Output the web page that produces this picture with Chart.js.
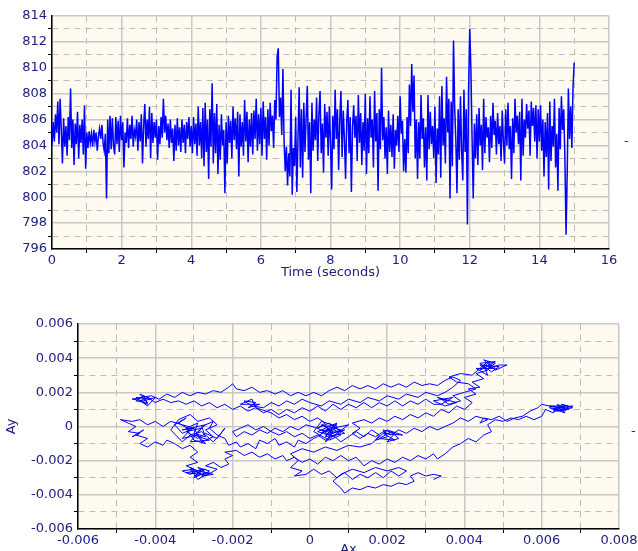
<!DOCTYPE html>
<html>
<head>
<meta charset="utf-8">
<script src="https://cdn.jsdelivr.net/npm/chart.js@4"></script>
<style>
  html, body { margin: 0; padding: 0; background: #fff; overflow: hidden; width: 638px; height: 551px; }
  canvas { position: absolute; left: 0; }
  #c1 { top: 0; }
  #c2 { top: 290px; }
  .mark { position: absolute; font: 13px "DejaVu Sans"; color: #2030a0; }
</style>
</head>
<body>
<canvas id="c1" width="638" height="285"></canvas>
<canvas id="c2" width="638" height="275"></canvas>
<div class="mark" style="left:624px;top:133px">-</div>
<div class="mark" style="left:631px;top:423px">-</div>
<script>
// top plot: signal, 30 samples per second, one row per second
const samplesPerSec = 30;
const signal = [
  804.0, 805.8, 804.3, 806.4, 805.0, 807.4, 804.1, 807.6, 805.2, 802.6, 806.1, 803.9, 805.5, 803.2, 806.2, 804.4, 808.4, 803.8, 806.0, 802.5, 805.7, 804.1, 806.6, 803.0, 805.6, 804.2, 806.0, 803.3, 807.1, 802.2,
  805.0, 803.8, 805.1, 804.2, 804.9, 803.9, 805.2, 804.3, 805.0, 803.6, 804.7, 805.3, 804.5, 805.6, 804.2, 803.6, 804.9, 799.9, 806.0, 803.4, 806.3, 803.7, 806.1, 804.0, 803.3, 806.2, 804.1, 805.9, 803.5, 806.3,
  804.4, 805.8, 802.3, 805.0, 804.2, 806.1, 803.8, 805.6, 804.5, 806.3, 803.9, 805.2, 804.7, 806.0, 803.6, 805.8, 804.3, 806.4, 802.6, 805.5, 807.2, 803.9, 806.0, 804.5, 807.0, 803.0, 806.5, 804.2, 805.8, 804.6,
  806.0, 802.9, 805.5, 804.1, 806.2, 804.6, 807.6, 805.0, 806.3, 804.4, 805.7, 803.8, 806.0, 804.2, 805.3, 802.8, 805.6, 803.6, 806.1, 804.0, 805.4, 803.5, 806.0, 804.2, 805.6, 803.4, 805.8, 804.5, 806.2, 803.9,
  805.5, 803.4, 806.2, 804.1, 805.7, 803.2, 807.0, 804.0, 805.8, 803.0, 806.9, 802.4, 807.3, 803.5, 806.0, 801.4, 806.8, 803.9, 808.8, 802.6, 806.5, 803.4, 807.2, 801.8, 805.6, 802.9, 806.4, 804.0, 805.2, 800.3,
  805.8, 802.6, 806.3, 804.2, 805.9, 803.0, 807.0, 804.4, 806.1, 803.7, 806.6, 801.6, 806.4, 803.9, 805.8, 803.2, 807.5, 804.3, 806.6, 802.7, 806.0, 803.9, 806.5, 803.3, 806.7, 804.5, 807.6, 803.6, 806.4, 804.1,
  806.9, 803.2, 807.4, 804.5, 806.2, 802.9, 806.8, 804.0, 807.3, 805.1, 806.3, 803.8, 807.5, 806.0, 810.8, 811.5, 806.2, 807.7, 804.8, 809.9, 804.3, 802.0, 803.9, 800.9, 803.4, 801.6, 808.3, 800.2, 803.8, 802.4,
  806.2, 800.4, 804.6, 808.5, 802.3, 806.8, 801.5, 807.3, 803.5, 806.1, 808.6, 802.9, 805.8, 800.3, 807.3, 803.6, 806.0, 804.4, 807.7, 802.8, 806.4, 808.2, 803.4, 805.7, 801.9, 807.2, 804.6, 806.6, 803.2, 807.0,
  804.2, 800.6, 806.3, 803.7, 808.3, 804.5, 806.8, 802.1, 806.0, 808.2, 803.1, 806.7, 804.5, 801.4, 805.9, 807.5, 803.4, 806.2, 800.4, 805.4, 807.1, 804.6, 806.3, 802.8, 807.9, 804.2, 806.5, 802.5, 805.8, 803.6,
  808.0, 801.8, 806.1, 803.4, 807.8, 804.6, 806.0, 802.3, 808.2, 804.3, 806.5, 800.5, 806.8, 803.7, 810.0, 804.4, 806.2, 803.0, 805.4, 801.8, 806.7, 803.5, 805.6, 803.1, 806.4, 802.2, 805.2, 804.0, 806.3, 803.5,
  807.8, 804.9, 805.9, 802.0, 804.5, 801.9, 806.2, 803.4, 808.7, 805.5, 810.3, 806.6, 809.4, 803.0, 806.0, 801.4, 805.8, 803.0, 807.9, 804.5, 806.1, 802.3, 805.4, 801.3, 807.9, 803.7, 806.6, 804.1, 805.5, 803.0,
  807.0, 801.1, 805.3, 803.3, 807.8, 801.5, 808.6, 804.0, 806.1, 802.6, 809.3, 805.0, 807.6, 799.9, 807.4, 802.4, 812.1, 806.9, 804.4, 800.3, 806.8, 802.9, 807.8, 803.6, 801.3, 808.3, 803.5, 806.8, 797.9, 808.4,
  813.0, 809.8, 804.6, 799.9, 805.7, 803.0, 806.4, 802.5, 806.9, 804.0, 805.6, 802.1, 807.6, 803.4, 806.2, 804.6, 805.4, 802.7, 806.3, 803.8, 807.3, 804.8, 805.9, 803.3, 806.5, 804.1, 805.5, 802.8, 806.7, 804.3,
  802.6, 806.8, 804.0, 807.3, 803.7, 805.5, 801.4, 806.1, 803.4, 807.6, 805.0, 806.3, 804.1, 806.6, 801.3, 807.6, 803.2, 806.0, 804.6, 807.2, 805.3, 806.7, 803.2, 807.4, 805.5, 806.9, 804.3, 807.1, 803.0, 806.8,
  804.3, 807.1, 803.6, 806.0, 801.6, 805.8, 803.1, 806.5, 800.6, 807.4, 802.8, 805.5, 803.9, 807.6, 802.3, 804.9, 800.5, 806.9, 803.7, 807.8, 805.2, 806.8, 803.0, 797.1, 801.9, 808.4, 804.5, 807.0, 803.8, 808.5,
  810.4
];

// bottom plot: [Ax, Ay] path, in units of 0.001
const trail = [
  [0.5,-0.2],[0.7,0.1],[0.4,0.0],[0.6,-0.4],[0.3,-0.2],[0.8,-0.3],[0.5,0.2],[0.2,-0.1],[0.6,-0.6],[0.9,-0.2],[0.4,-0.5],[0.7,0.0],[0.3,0.3],[0.1,-0.3],[0.5,-0.8],[0.8,-0.5],[0.6,-0.1],[1.0,0.1],[0.7,-0.4],[0.4,-0.9],
  [0.6,-0.3],[0.3,0.1],[0.8,-0.2],[0.5,-0.5],[0.2,-0.3],[0.7,0.2],[0.4,-0.6],[0.9,-0.4],[0.6,0.0],[0.3,-0.4],[0.5,-0.1],[0.2,-0.6],
  [0.1,-0.7],[-0.1,-1.0],[-0.3,-0.8],[-0.4,-1.2],[-0.6,-0.9],[-0.8,-1.1],[-0.9,-0.7],[-1.1,-1.0],[-1.3,-0.8],[-1.4,-1.3],[-1.6,-1.0],[-1.8,-1.2],[-1.9,-0.9],[-2.1,-1.1],[-2.2,-0.7],
  [-2.4,-0.5],[-2.6,-0.1],[-2.5,0.3],[-2.8,0.0],[-2.7,-0.6],[-3.0,-0.4],[-2.9,0.2],[-3.2,-0.1],[-3.0,-0.8],[-2.7,-1.0],[-2.9,-0.5],[-3.3,-0.7],[-3.1,-0.2],[-3.4,0.2],[-3.2,0.5],[-3.5,0.1],[-3.3,-0.4],[-3.0,-0.1],
  [-2.8,-0.9],[-2.5,-0.6],[-2.7,-0.2],[-2.4,0.1],[-2.6,0.5],[-2.9,0.3],[-3.1,0.7],[-3.4,0.4],[-3.6,-0.2],[-3.3,-0.9],[-3.1,-0.5],[-2.8,-0.3],[-2.5,-0.9],[-2.3,-0.4],[-2.2,-0.1],[-2.4,-0.7],[-2.7,-0.4],
  [-2.9,-0.7],[-3.2,-0.3],[-2.8,-0.1],[-3.1,-0.9],[-2.6,-0.8],[-3.0,-0.5],[-2.7,0.1],[-3.3,-0.2],
  [-3.0,-0.1],[-3.3,0.1],[-3.6,0.3],[-3.8,0.0],[-4.0,0.3],[-4.2,0.1],[-4.4,0.4],[-4.6,0.3],[-4.9,0.4],[-4.7,0.2],[-4.5,0.0],[-4.7,-0.3],[-4.4,-0.4],[-4.6,-0.6],[-4.3,-0.2],[-4.5,-0.5],[-4.2,-0.7],[-4.4,-1.0],
  [-4.2,-1.2],[-4.0,-0.9],[-3.8,-1.1],[-3.7,-0.8],[-3.5,-1.0],[-3.3,-1.3],[-3.1,-1.1],[-2.9,-1.5],[-3.1,-1.8],
  [-2.9,-2.1],[-3.2,-2.3],[-3.0,-2.5],[-3.3,-2.6],[-3.1,-2.8],[-2.8,-2.5],[-3.0,-3.0],[-2.7,-2.7],[-2.9,-2.4],[-2.6,-2.6],[-2.8,-2.9],[-2.5,-2.8],
  [-2.9,-2.6],[-3.1,-2.4],[-2.8,-2.8],[-3.2,-2.7],[-2.7,-2.5],[-3.0,-2.9],[-2.6,-2.7],[-2.9,-3.1],[-3.1,-2.5],[-2.7,-2.9],
  [-2.4,-2.5],[-2.7,-2.3],[-2.5,-2.1],[-2.3,-2.4],[-2.1,-2.2],[-2.2,-1.9],[-2.0,-1.7],[-2.2,-1.5],
  [-1.9,-1.4],[-1.7,-1.7],[-1.5,-1.5],[-1.3,-1.8],[-1.1,-1.6],[-0.9,-1.9],[-0.7,-1.7],[-0.6,-2.0],[-0.4,-1.8],[-0.2,-2.1],[0.0,-1.9],[0.2,-2.2],[0.4,-1.8],[0.6,-2.0],[0.8,-1.7],[1.0,-2.0],[1.2,-1.8],[1.4,-2.3],
  [1.6,-2.0],[1.8,-2.2],[2.0,-1.9],[2.2,-2.1],[2.4,-1.8],[2.6,-2.0],[2.8,-1.7],[3.0,-1.9],[3.2,-1.6],[3.3,-1.9],
  [3.5,-1.6],[3.7,-1.2],[3.9,-1.0],[4.1,-0.7],[4.3,-0.9],[4.5,-0.5],[4.7,-0.3],[4.6,0.1],[4.8,0.4],[5.0,0.3],[5.2,0.5],[5.4,0.4],[5.6,0.6],[5.8,0.4],[6.0,0.6],[6.1,1.0],[6.3,0.8],[6.5,1.2],[6.3,1.0],[6.6,0.9],
  [6.7,1.2],[6.5,1.3],[6.8,1.1],[6.4,0.9],[6.6,1.1],[6.2,1.2],
  [6.6,1.2],[6.3,0.9],[6.7,1.0],[6.4,1.3],[6.6,0.8],[6.2,1.1],[6.5,1.0],[6.8,1.2],[6.4,1.1],
  [6.0,1.3],[5.9,1.1],[5.7,0.9],[5.5,0.6],[5.3,0.5],[5.1,0.3],[4.9,0.6],[4.7,0.4],[4.5,0.5],[4.4,0.2],[4.6,0.4],[4.3,0.6],[4.1,0.3],[3.9,0.5],
  [3.7,0.2],[3.5,0.0],[3.3,-0.2],[3.1,0.0],[2.9,-0.3],[2.7,-0.1],[2.5,-0.4],[2.3,-0.2],[2.1,-0.5],[1.9,-0.3],[1.7,-0.6],[1.5,-0.4],[1.3,-0.7],
  [1.1,-0.4],[1.3,-0.1],[1.1,0.2],[1.4,0.4],[1.6,0.2],[1.8,0.5],[2.0,0.3],[2.2,0.6],[2.4,0.4],[2.6,0.7],[2.8,0.5],[3.0,0.8],[3.2,0.6],[3.4,1.0],[3.6,0.8],[3.8,1.2],[4.0,1.0],[4.2,1.4],[4.0,1.7],[4.3,1.9],
  [4.1,2.2],[4.4,2.3],[4.2,2.6],[4.5,2.8],[4.3,3.1],[4.6,3.3],[4.4,3.6],[4.7,3.5],[4.5,3.9],[4.8,3.7],[4.6,3.4],[4.9,3.6],[5.1,3.6],[4.8,3.3],[4.6,3.7],[4.4,3.3],
  [4.5,3.4],[4.8,3.8],[4.4,3.7],[4.7,3.2],[4.9,3.5],[4.5,3.6],[4.6,3.0],[4.3,3.4],[4.8,3.4],[4.6,3.8],
  [4.2,3.0],[3.9,3.1],[3.6,2.9],[3.8,2.6],
  [4.1,2.5],[4.3,2.2],[4.0,2.0],[3.7,1.8],[3.9,1.5],[3.6,1.3],[3.4,1.6],
  [3.6,1.5],[3.3,1.7],[3.8,1.4],[3.5,1.2],[3.2,1.5],[3.7,1.7],[3.4,1.3],
  [3.2,1.3],[3.0,1.6],[2.8,1.3],[2.6,1.5],[2.4,1.2],[2.2,1.5],[2.0,1.2],[1.8,1.4],[1.6,1.1],[1.4,1.4],[1.2,1.1],[1.0,1.3],[0.8,1.0],[0.6,1.3],[0.4,0.9],[0.2,1.2],[0.0,0.9],[-0.2,1.1],[-0.4,0.8],[-0.6,1.0],
  [-0.8,0.7],[-1.0,1.0],[-1.2,0.8],[-1.4,1.1],[-1.6,0.9],[-1.8,1.2],[-2.0,1.0],[-2.2,1.3],[-2.4,1.1],[-2.6,1.4],[-2.8,1.2],[-3.0,1.5],[-3.2,1.3],[-3.4,1.5],[-3.6,1.4],[-3.8,1.6],[-4.0,1.4],[-4.2,1.7],[-4.4,1.5],[-4.2,1.3],
  [-4.3,1.8],[-4.5,1.5],[-4.2,1.4],[-4.4,1.9],[-4.1,1.6],[-4.5,1.7],[-4.2,1.2],[-4.0,1.7],[-4.3,1.5],[-4.6,1.6],
  [-4.1,1.8],[-3.9,1.6],
  [-3.7,1.9],[-3.5,1.7],[-3.3,2.0],[-3.1,1.8],[-2.9,2.0],[-2.7,1.9],[-2.5,2.1],[-2.3,2.0],[-2.1,2.3],[-2.0,2.5],[-1.9,2.2],[-1.7,2.1],[-1.5,2.3],[-1.3,2.0],[-1.1,2.1],[-0.9,1.9],[-0.7,2.1],[-0.5,1.8],[-0.3,2.0],[-0.1,1.8],
  [0.1,2.0],[0.3,1.8],[0.5,2.1],[0.7,2.3],[0.9,2.1],[1.1,2.4],[1.3,2.2],[1.5,2.4],[1.7,2.2],[1.9,2.5],[2.1,2.3],[2.3,2.5],[2.5,2.3],[2.7,2.6],[2.9,2.4],[3.1,2.5],[3.3,2.4],[3.5,2.7],[3.7,2.9],[3.9,2.7],
  [3.7,2.3],[3.5,2.0],[3.3,1.8],[3.0,2.0],[2.8,1.7],[2.5,1.9],[2.3,1.6],[2.0,1.8],[1.8,1.5],[1.5,1.7],[1.3,1.4],[1.0,1.6],[0.8,1.3],[0.5,1.5],[0.3,1.2],[0.0,1.4],[-0.2,1.6],[-0.4,1.3],[-0.6,1.5],[-0.8,1.2],
  [-1.0,1.4],[-1.2,1.1],
  [-1.5,1.2],[-1.7,1.5],[-1.4,1.4],[-1.6,1.1],[-1.3,1.3],[-1.8,1.3],[-1.5,1.6],[-1.4,1.1],
  [-1.0,0.8],[-0.8,0.5],[-0.6,0.7],[-0.4,0.4],[-0.2,0.6],[0.0,0.3],[0.2,0.5],[0.4,0.2],[0.2,-0.1],[-0.1,0.1],[-0.3,-0.2],[-0.5,0.0],[-0.7,-0.3],[-0.9,-0.1],[-1.1,-0.4],[-1.3,-0.2],[-1.5,-0.5],[-1.7,-0.3],
  [-1.9,-0.6],[-2.0,-0.3],
  [-1.8,-0.1],[-1.6,0.1],[-1.4,-0.2],[-1.2,0.0],[-1.0,-0.3],[-0.8,-0.5],[-0.6,-0.3],[-0.4,-0.6],[-0.2,-0.4],[0.0,-0.7],[0.2,-0.5],[0.4,-0.8],[0.6,-0.5],[0.8,-0.9],[1.0,-0.6],[1.2,-0.3],[1.4,-0.6],[1.6,-0.2],[1.8,-0.5],[1.7,-0.8],
  [2.0,-0.6],[1.9,-0.2],[2.2,-0.4],[2.0,-0.9],[2.3,-0.7],[2.1,-0.3],[1.8,-0.7],[2.2,-0.8],[1.9,-0.4],[2.4,-0.5],[2.0,-0.2],
  [1.6,-1.0],[1.3,-1.2],[1.0,-1.1],[0.7,-1.4],[0.4,-1.2],[0.1,-1.5],[-0.2,-1.3],[-0.5,-1.6],[-0.3,-2.0],[-0.5,-2.4],[-0.2,-2.6],[-0.4,-2.9],[-0.1,-2.8],
  [0.1,-2.5],[0.3,-2.8],[0.5,-2.6],[0.7,-3.0],[0.9,-2.7],[1.1,-3.1],[1.3,-2.8],[1.5,-3.0],[1.7,-2.7],[1.9,-3.0],[2.1,-2.6],[2.3,-2.9],[2.5,-2.6],[2.3,-2.4],[2.0,-2.6],[1.7,-2.4],[1.4,-2.7],[1.1,-2.5],[0.8,-2.8],[0.6,-3.2],
  [0.8,-3.6],[0.9,-3.9],[1.1,-3.6],[1.3,-3.7],[1.5,-3.5],[1.7,-3.6],[1.9,-3.4],[2.1,-3.5],[2.3,-3.3],[2.5,-3.4],[2.7,-3.2],[2.6,-2.9],[2.8,-2.7],[3.0,-2.9],[3.2,-2.8],[3.4,-2.9],[3.2,-3.1]
];

const topXTicks = [0, 2, 4, 6, 8, 10, 12, 14, 16];
const topYTicks = [796, 798, 800, 802, 804, 806, 808, 810, 812, 814];

const navy = '#202080';
const labelFont = { family: 'DejaVu Sans', size: 13 };

const paperBg = {
  id: 'paperBg',
  beforeDraw(chart) {
    const a = chart.chartArea, c = chart.ctx;
    c.save();
    c.fillStyle = '#fffaef';
    c.fillRect(a.left, a.top, a.right - a.left, a.bottom - a.top);
    c.restore();
  }
};

// labelled ticks get a solid grid line, the ones in between a dashed line and a tick mark
function gridAxis(isMajor, fmt) {
  return {
    grid: {
      color: (ctx) => ctx.tick && !isMajor(ctx.tick.value) ? '#bcbcbc' : '#c8c8c8',
      lineWidth: (ctx) => ctx.tick && !isMajor(ctx.tick.value) ? 1 : 1.5,
      tickLength: 4,
      tickColor: (ctx) => ctx.tick && !isMajor(ctx.tick.value) ? '#000' : 'rgba(0,0,0,0)',
      tickWidth: 1
    },
    border: {
      color: '#000',
      width: 1.5,
      dash: (ctx) => ctx.tick && !isMajor(ctx.tick.value) ? [6, 5] : []
    },
    ticks: {
      color: navy,
      font: labelFont,
      autoSkip: false,
      maxRotation: 0,
      padding: 1,
      callback: (v) => isMajor(v) ? fmt(v) : ''
    }
  };
}

const isWhole = (v) => Math.abs(v - Math.round(v)) < 1e-6;

const topX = gridAxis((v) => isWhole(v) && topXTicks.includes(Math.round(v)), (v) => String(Math.round(v)));
Object.assign(topX, {
  type: 'linear', min: 0, max: 16,
  afterBuildTicks: (s) => { s.ticks = []; for (let v = 0; v <= 16; v++) s.ticks.push({ value: v }); },
  afterFit: (s) => { s.height = 36; },
  title: { display: true, text: 'Time (seconds)', color: navy, font: labelFont, padding: { top: 0, bottom: 5 } }
});
topX.ticks.padding = 0;

const topY = gridAxis((v) => isWhole(v) && topYTicks.includes(Math.round(v)), (v) => String(Math.round(v)));
Object.assign(topY, {
  min: 796, max: 814,
  afterBuildTicks: (s) => { s.ticks = []; for (let v = 796; v <= 814; v++) s.ticks.push({ value: v }); },
  afterFit: (s) => { s.width = 52; }
});

new Chart(document.getElementById('c1'), {
  type: 'line',
  data: {
    datasets: [{
      data: signal.map((v, i) => ({ x: i / samplesPerSec, y: v })),
      borderColor: '#0000ff',
      borderWidth: 1.5,
      pointRadius: 0,
      tension: 0
    }]
  },
  options: {
    responsive: false,
    animation: false,
    layout: { padding: { top: 16, right: 29, left: 0, bottom: 0 } },
    plugins: { legend: { display: false }, tooltip: { enabled: false } },
    scales: { x: topX, y: topY }
  },
  plugins: [paperBg]
});

// bottom chart: ticks every 0.001, labels every 0.002
const milli = (v) => Math.round(v * 1000);
const fmtSmall = (v) => milli(v) === 0 ? '0' : (milli(v) / 1000).toFixed(3);

const botX = gridAxis((v) => milli(v) % 2 === 0, fmtSmall);
Object.assign(botX, {
  type: 'linear', min: -0.006, max: 0.008,
  afterBuildTicks: (s) => { s.ticks = []; for (let k = -6; k <= 8; k++) s.ticks.push({ value: k / 1000 }); },
  afterFit: (s) => { s.height = 36; },
  title: { display: true, text: 'Ax', color: navy, font: labelFont, padding: { top: 0, bottom: 8 } }
});
botX.ticks.padding = 0;

const botY = gridAxis((v) => milli(v) % 2 === 0, fmtSmall);
Object.assign(botY, {
  min: -0.006, max: 0.006,
  afterBuildTicks: (s) => { s.ticks = []; for (let k = -6; k <= 6; k++) s.ticks.push({ value: k / 1000 }); },
  afterFit: (s) => { s.width = 78; },
  title: { display: true, text: 'Ay', color: navy, font: labelFont, padding: { top: 4, bottom: 0 } }
});

new Chart(document.getElementById('c2'), {
  type: 'scatter',
  data: {
    datasets: [{
      data: trail.map((p) => ({ x: p[0] / 1000, y: p[1] / 1000 })),
      showLine: true,
      borderColor: '#0000ff',
      borderWidth: 1,
      pointRadius: 0,
      tension: 0
    }]
  },
  options: {
    responsive: false,
    animation: false,
    layout: { padding: { top: 34, right: 19, left: 0, bottom: 0 } },
    plugins: { legend: { display: false }, tooltip: { enabled: false } },
    scales: { x: botX, y: botY }
  },
  plugins: [paperBg]
});
</script>
</body>
</html>
